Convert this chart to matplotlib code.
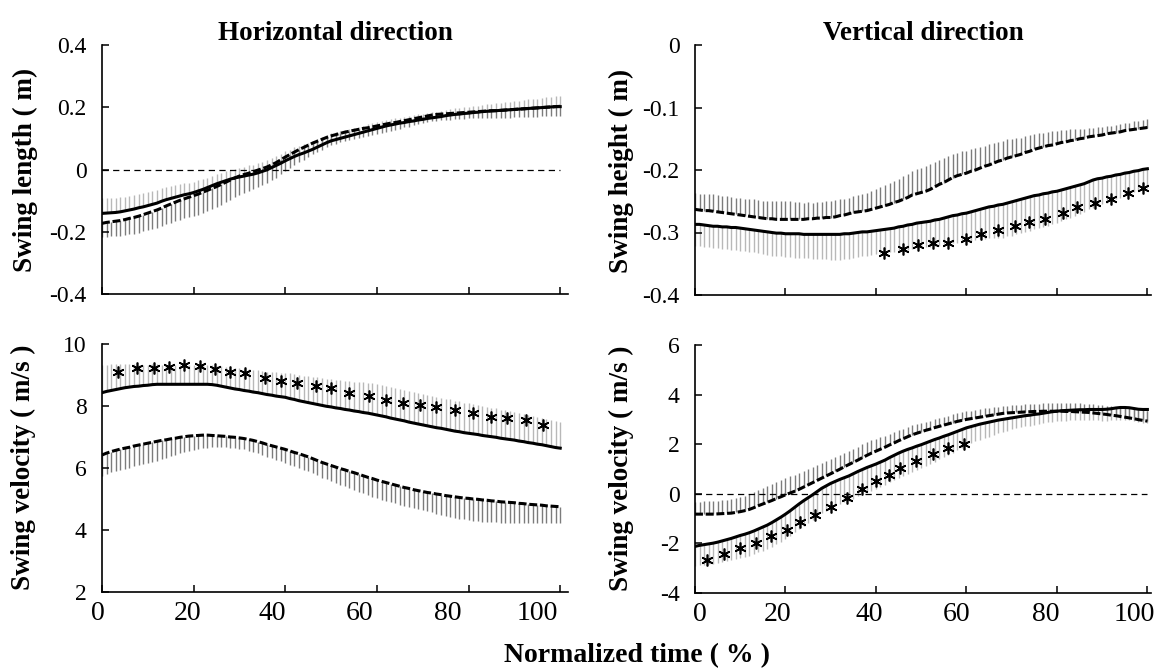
import matplotlib
matplotlib.use("Agg")
import matplotlib.pyplot as plt
import numpy as np

plt.rcParams['font.family'] = ['Liberation Serif', 'DejaVu Serif']
plt.rcParams['axes.unicode_minus'] = False

# normalized time (%), one value every 1 %
time_pct = np.arange(0, 101)

# Horizontal direction - swing length (m)
len_solid = np.array([
    -0.141, -0.140, -0.139, -0.138, -0.136, -0.133, -0.130, -0.127, -0.123, -0.120,
    -0.116, -0.112, -0.108, -0.102, -0.097, -0.093, -0.089, -0.085, -0.081, -0.078,
    -0.074, -0.069, -0.064, -0.058, -0.052, -0.046, -0.041, -0.036, -0.031, -0.027,
    -0.024, -0.021, -0.018, -0.015, -0.011, -0.006, -0.001, 0.006, 0.013, 0.020,
    0.028, 0.035, 0.042, 0.048, 0.053, 0.059, 0.065, 0.072, 0.079, 0.086,
    0.092, 0.096, 0.100, 0.104, 0.108, 0.112, 0.116, 0.120, 0.124, 0.128,
    0.132, 0.136, 0.140, 0.143, 0.146, 0.149, 0.151, 0.154, 0.156, 0.159,
    0.161, 0.164, 0.166, 0.168, 0.170, 0.173, 0.175, 0.177, 0.178, 0.180,
    0.181, 0.183, 0.184, 0.186, 0.187, 0.188, 0.189, 0.190, 0.191, 0.192,
    0.193, 0.194, 0.195, 0.196, 0.197, 0.198, 0.199, 0.200, 0.201, 0.202,
    0.202])
len_solid_sd = np.array([
    0.048, 0.048, 0.047, 0.047, 0.047, 0.046, 0.046, 0.046, 0.045, 0.045,
    0.045, 0.044, 0.043, 0.042, 0.041, 0.040, 0.039, 0.038, 0.037, 0.036,
    0.035, 0.034, 0.033, 0.032, 0.031, 0.030, 0.030, 0.030, 0.030, 0.030,
    0.030, 0.030, 0.031, 0.031, 0.032, 0.031, 0.031, 0.030, 0.030, 0.030,
    0.030, 0.029, 0.029, 0.028, 0.028, 0.027, 0.027, 0.026, 0.026, 0.025,
    0.025, 0.024, 0.024, 0.023, 0.023, 0.022, 0.022, 0.021, 0.021, 0.020,
    0.020, 0.019, 0.019, 0.019, 0.019, 0.018, 0.018, 0.018, 0.018, 0.018,
    0.018, 0.018, 0.018, 0.018, 0.019, 0.019, 0.019, 0.019, 0.020, 0.020,
    0.020, 0.020, 0.021, 0.021, 0.022, 0.023, 0.024, 0.024, 0.025, 0.026,
    0.027, 0.027, 0.028, 0.029, 0.030, 0.030, 0.031, 0.032, 0.033, 0.033,
    0.034])
len_dashed = np.array([
    -0.173, -0.170, -0.168, -0.166, -0.164, -0.161, -0.157, -0.154, -0.150, -0.145,
    -0.140, -0.135, -0.130, -0.124, -0.117, -0.111, -0.105, -0.099, -0.094, -0.089,
    -0.084, -0.079, -0.073, -0.067, -0.061, -0.055, -0.048, -0.041, -0.034, -0.027,
    -0.021, -0.016, -0.012, -0.007, -0.002, 0.003, 0.008, 0.015, 0.022, 0.031,
    0.040, 0.048, 0.056, 0.064, 0.071, 0.078, 0.085, 0.091, 0.097, 0.103,
    0.108, 0.112, 0.116, 0.120, 0.123, 0.126, 0.129, 0.132, 0.134, 0.137,
    0.140, 0.143, 0.146, 0.149, 0.151, 0.154, 0.157, 0.160, 0.163, 0.166,
    0.169, 0.172, 0.175, 0.177, 0.178, 0.179, 0.180, 0.181, 0.182, 0.183,
    0.184, 0.185, 0.186, 0.187, 0.188, 0.189, 0.189, 0.190, 0.191, 0.192,
    0.193, 0.194, 0.195, 0.196, 0.197, 0.198, 0.199, 0.200, 0.201, 0.202,
    0.203])
len_dashed_sd = np.array([
    0.045, 0.046, 0.047, 0.048, 0.049, 0.050, 0.051, 0.052, 0.053, 0.054,
    0.055, 0.056, 0.057, 0.058, 0.059, 0.060, 0.061, 0.062, 0.063, 0.064,
    0.065, 0.066, 0.066, 0.066, 0.066, 0.066, 0.065, 0.064, 0.063, 0.062,
    0.060, 0.059, 0.058, 0.057, 0.055, 0.054, 0.052, 0.050, 0.048, 0.047,
    0.045, 0.044, 0.042, 0.041, 0.039, 0.038, 0.036, 0.035, 0.033, 0.032,
    0.030, 0.030, 0.029, 0.029, 0.028, 0.028, 0.027, 0.027, 0.026, 0.026,
    0.025, 0.025, 0.024, 0.024, 0.023, 0.023, 0.022, 0.022, 0.021, 0.021,
    0.020, 0.020, 0.020, 0.020, 0.020, 0.020, 0.020, 0.020, 0.020, 0.020,
    0.020, 0.021, 0.021, 0.022, 0.022, 0.023, 0.023, 0.024, 0.024, 0.025,
    0.025, 0.026, 0.026, 0.027, 0.027, 0.028, 0.028, 0.029, 0.030, 0.031,
    0.031])

# Vertical direction - swing height (m)
hgt_solid = np.array([
    -0.287, -0.287, -0.288, -0.289, -0.290, -0.290, -0.291, -0.291, -0.292, -0.292,
    -0.293, -0.294, -0.295, -0.296, -0.297, -0.298, -0.299, -0.300, -0.301, -0.301,
    -0.302, -0.302, -0.302, -0.302, -0.303, -0.303, -0.303, -0.303, -0.303, -0.303,
    -0.303, -0.303, -0.303, -0.302, -0.302, -0.301, -0.300, -0.299, -0.299, -0.298,
    -0.297, -0.296, -0.295, -0.294, -0.293, -0.291, -0.290, -0.288, -0.287, -0.285,
    -0.284, -0.283, -0.282, -0.280, -0.279, -0.277, -0.275, -0.273, -0.272, -0.270,
    -0.269, -0.267, -0.265, -0.263, -0.261, -0.259, -0.258, -0.256, -0.255, -0.253,
    -0.251, -0.249, -0.247, -0.245, -0.243, -0.241, -0.240, -0.238, -0.237, -0.235,
    -0.234, -0.232, -0.230, -0.228, -0.226, -0.224, -0.222, -0.219, -0.216, -0.214,
    -0.213, -0.211, -0.210, -0.208, -0.207, -0.205, -0.204, -0.202, -0.201, -0.199,
    -0.198])
hgt_solid_sd = np.array([
    0.035, 0.035, 0.035, 0.035, 0.035, 0.035, 0.035, 0.035, 0.036, 0.036,
    0.036, 0.036, 0.036, 0.036, 0.036, 0.036, 0.037, 0.037, 0.037, 0.037,
    0.037, 0.037, 0.038, 0.038, 0.038, 0.038, 0.039, 0.039, 0.040, 0.040,
    0.041, 0.041, 0.041, 0.041, 0.040, 0.040, 0.039, 0.039, 0.038, 0.038,
    0.037, 0.037, 0.038, 0.038, 0.039, 0.039, 0.040, 0.040, 0.040, 0.040,
    0.040, 0.040, 0.041, 0.041, 0.042, 0.042, 0.043, 0.043, 0.044, 0.044,
    0.045, 0.046, 0.047, 0.048, 0.049, 0.050, 0.051, 0.052, 0.053, 0.053,
    0.054, 0.054, 0.054, 0.054, 0.054, 0.054, 0.053, 0.053, 0.052, 0.051,
    0.050, 0.050, 0.049, 0.048, 0.047, 0.046, 0.045, 0.044, 0.044, 0.043,
    0.042, 0.041, 0.040, 0.039, 0.038, 0.036, 0.035, 0.033, 0.032, 0.031,
    0.030])
hgt_dashed = np.array([
    -0.263, -0.264, -0.265, -0.265, -0.266, -0.267, -0.268, -0.269, -0.270, -0.271,
    -0.272, -0.273, -0.274, -0.275, -0.276, -0.277, -0.278, -0.278, -0.279, -0.279,
    -0.279, -0.279, -0.279, -0.279, -0.279, -0.278, -0.278, -0.277, -0.277, -0.276,
    -0.276, -0.275, -0.273, -0.272, -0.270, -0.268, -0.267, -0.266, -0.265, -0.263,
    -0.261, -0.259, -0.257, -0.255, -0.252, -0.250, -0.247, -0.244, -0.240, -0.238,
    -0.236, -0.234, -0.231, -0.227, -0.223, -0.220, -0.216, -0.212, -0.209, -0.207,
    -0.205, -0.202, -0.200, -0.197, -0.194, -0.192, -0.189, -0.186, -0.184, -0.181,
    -0.179, -0.177, -0.175, -0.172, -0.170, -0.167, -0.165, -0.163, -0.161, -0.160,
    -0.158, -0.156, -0.155, -0.153, -0.152, -0.150, -0.149, -0.147, -0.146, -0.145,
    -0.144, -0.142, -0.141, -0.140, -0.139, -0.137, -0.136, -0.135, -0.134, -0.133,
    -0.132])
hgt_dashed_sd = np.array([
    0.026, 0.026, 0.026, 0.026, 0.027, 0.027, 0.027, 0.027, 0.027, 0.027,
    0.027, 0.027, 0.028, 0.028, 0.028, 0.028, 0.029, 0.029, 0.029, 0.029,
    0.029, 0.029, 0.028, 0.028, 0.027, 0.027, 0.026, 0.026, 0.026, 0.026,
    0.027, 0.027, 0.026, 0.026, 0.026, 0.026, 0.027, 0.028, 0.029, 0.030,
    0.031, 0.032, 0.033, 0.034, 0.035, 0.036, 0.037, 0.038, 0.039, 0.040,
    0.040, 0.040, 0.040, 0.040, 0.039, 0.039, 0.038, 0.038, 0.037, 0.037,
    0.036, 0.036, 0.035, 0.034, 0.033, 0.033, 0.032, 0.031, 0.030, 0.030,
    0.029, 0.028, 0.027, 0.027, 0.026, 0.025, 0.024, 0.023, 0.022, 0.022,
    0.021, 0.020, 0.019, 0.018, 0.017, 0.016, 0.015, 0.014, 0.013, 0.013,
    0.012, 0.012, 0.012, 0.012, 0.012, 0.012, 0.012, 0.013, 0.013, 0.013,
    0.013])
hgt_star_x = [41.7, 46.0, 49.3, 52.5, 56.0, 59.9, 63.3, 67.0, 70.7, 73.9,
              77.3, 81.3, 84.5, 88.4, 91.9, 95.7, 99.0]
hgt_star_y = [-0.333, -0.326, -0.320, -0.317, -0.316, -0.310, -0.303, -0.296, -0.289,
              -0.284, -0.278, -0.269, -0.259, -0.253, -0.247, -0.237, -0.228]

# Horizontal direction - swing velocity (m/s)
vh_solid = np.array([
    8.43, 8.47, 8.50, 8.53, 8.56, 8.59, 8.61, 8.63, 8.64, 8.66,
    8.67, 8.69, 8.70, 8.70, 8.70, 8.70, 8.70, 8.70, 8.70, 8.70,
    8.70, 8.70, 8.70, 8.70, 8.69, 8.67, 8.64, 8.61, 8.58, 8.55,
    8.53, 8.50, 8.48, 8.45, 8.43, 8.40, 8.37, 8.35, 8.32, 8.30,
    8.28, 8.24, 8.21, 8.17, 8.14, 8.11, 8.08, 8.05, 8.02, 7.99,
    7.97, 7.94, 7.92, 7.89, 7.87, 7.84, 7.82, 7.79, 7.77, 7.74,
    7.71, 7.68, 7.65, 7.61, 7.58, 7.55, 7.52, 7.48, 7.45, 7.42,
    7.39, 7.36, 7.33, 7.30, 7.28, 7.25, 7.22, 7.19, 7.17, 7.14,
    7.12, 7.10, 7.08, 7.05, 7.03, 7.01, 6.99, 6.96, 6.94, 6.92,
    6.90, 6.87, 6.85, 6.82, 6.80, 6.77, 6.75, 6.72, 6.69, 6.66,
    6.64])
vh_solid_sd = np.array([
    0.89, 0.86, 0.84, 0.81, 0.78, 0.76, 0.73, 0.71, 0.69, 0.67,
    0.66, 0.65, 0.64, 0.63, 0.63, 0.62, 0.62, 0.62, 0.62, 0.62,
    0.62, 0.62, 0.62, 0.62, 0.63, 0.63, 0.64, 0.65, 0.66, 0.67,
    0.68, 0.69, 0.70, 0.71, 0.72, 0.73, 0.74, 0.75, 0.77, 0.78,
    0.80, 0.81, 0.82, 0.83, 0.84, 0.85, 0.86, 0.87, 0.88, 0.89,
    0.90, 0.91, 0.92, 0.93, 0.94, 0.95, 0.96, 0.97, 0.98, 0.99,
    1.00, 1.00, 1.00, 1.00, 1.00, 1.00, 1.00, 1.00, 1.00, 1.00,
    1.00, 1.00, 1.00, 1.00, 0.99, 0.99, 0.99, 0.98, 0.98, 0.97,
    0.97, 0.96, 0.96, 0.95, 0.95, 0.94, 0.93, 0.92, 0.92, 0.91,
    0.90, 0.89, 0.89, 0.88, 0.88, 0.87, 0.87, 0.86, 0.86, 0.85,
    0.85])
vh_dashed = np.array([
    6.42, 6.48, 6.53, 6.57, 6.61, 6.64, 6.67, 6.71, 6.74, 6.77,
    6.80, 6.83, 6.86, 6.89, 6.91, 6.94, 6.96, 6.99, 7.01, 7.03,
    7.04, 7.05, 7.06, 7.06, 7.05, 7.04, 7.03, 7.02, 7.00, 6.99,
    6.97, 6.95, 6.92, 6.89, 6.85, 6.81, 6.76, 6.72, 6.68, 6.64,
    6.60, 6.55, 6.50, 6.46, 6.41, 6.36, 6.30, 6.24, 6.18, 6.13,
    6.08, 6.03, 5.98, 5.94, 5.89, 5.85, 5.80, 5.75, 5.70, 5.66,
    5.61, 5.57, 5.53, 5.49, 5.45, 5.41, 5.37, 5.34, 5.30, 5.27,
    5.24, 5.21, 5.19, 5.16, 5.14, 5.11, 5.09, 5.07, 5.05, 5.03,
    5.02, 5.00, 4.99, 4.97, 4.96, 4.94, 4.93, 4.91, 4.90, 4.89,
    4.88, 4.86, 4.85, 4.83, 4.82, 4.81, 4.80, 4.78, 4.77, 4.76,
    4.75])
vh_dashed_sd = np.array([
    0.67, 0.67, 0.67, 0.67, 0.66, 0.66, 0.66, 0.66, 0.65, 0.65,
    0.65, 0.64, 0.62, 0.60, 0.58, 0.56, 0.54, 0.52, 0.50, 0.48,
    0.45, 0.43, 0.41, 0.40, 0.38, 0.37, 0.35, 0.35, 0.35, 0.35,
    0.35, 0.35, 0.36, 0.37, 0.38, 0.39, 0.40, 0.41, 0.42, 0.43,
    0.44, 0.45, 0.45, 0.46, 0.46, 0.47, 0.47, 0.48, 0.49, 0.50,
    0.50, 0.51, 0.52, 0.53, 0.54, 0.55, 0.56, 0.57, 0.58, 0.59,
    0.59, 0.59, 0.59, 0.59, 0.59, 0.59, 0.59, 0.60, 0.60, 0.60,
    0.60, 0.61, 0.62, 0.63, 0.64, 0.65, 0.66, 0.67, 0.68, 0.69,
    0.70, 0.70, 0.70, 0.70, 0.69, 0.68, 0.67, 0.67, 0.66, 0.65,
    0.64, 0.63, 0.62, 0.61, 0.60, 0.59, 0.58, 0.57, 0.55, 0.54,
    0.53])
vh_star_x = [3.5, 7.7, 11.4, 14.7, 17.9, 21.4, 24.7, 28.0, 31.2, 35.5, 39.1, 42.5, 46.6,
             50.0, 54.0, 58.3, 61.9, 65.6, 69.3, 72.8, 77.0, 80.9, 84.8, 88.4, 92.5, 96.2]
vh_star_y = [9.11, 9.21, 9.21, 9.25, 9.32, 9.29, 9.18, 9.11, 9.05, 8.89, 8.82, 8.73, 8.65,
             8.57, 8.43, 8.32, 8.19, 8.11, 8.03, 7.96, 7.87, 7.76, 7.63, 7.60, 7.55, 7.39]

# Vertical direction - swing velocity (m/s)
vv_solid = np.array([
    -2.12, -2.08, -2.05, -2.02, -1.99, -1.95, -1.90, -1.85, -1.80, -1.74,
    -1.68, -1.63, -1.57, -1.50, -1.42, -1.34, -1.26, -1.16, -1.05, -0.94,
    -0.82, -0.69, -0.55, -0.41, -0.28, -0.16, -0.04, 0.09, 0.22, 0.32,
    0.42, 0.50, 0.58, 0.65, 0.72, 0.81, 0.90, 0.98, 1.06, 1.13,
    1.20, 1.28, 1.36, 1.46, 1.55, 1.64, 1.72, 1.79, 1.85, 1.92,
    1.98, 2.05, 2.12, 2.19, 2.25, 2.32, 2.38, 2.45, 2.52, 2.59,
    2.66, 2.71, 2.76, 2.81, 2.85, 2.89, 2.93, 2.97, 3.00, 3.03,
    3.06, 3.09, 3.12, 3.15, 3.17, 3.20, 3.22, 3.25, 3.28, 3.31,
    3.33, 3.35, 3.36, 3.37, 3.38, 3.39, 3.39, 3.40, 3.40, 3.40,
    3.40, 3.41, 3.43, 3.46, 3.48, 3.48, 3.47, 3.44, 3.41, 3.40,
    3.40])
vv_solid_sd = np.array([
    0.80, 0.81, 0.82, 0.83, 0.84, 0.85, 0.86, 0.87, 0.88, 0.89,
    0.90, 0.91, 0.92, 0.93, 0.94, 0.95, 0.96, 0.97, 0.98, 0.99,
    1.00, 1.00, 1.00, 1.00, 1.00, 1.00, 1.00, 1.00, 1.00, 1.00,
    1.00, 1.00, 1.00, 1.00, 1.00, 1.00, 1.00, 1.00, 1.00, 1.00,
    1.00, 1.00, 1.00, 1.00, 1.00, 1.00, 1.00, 0.99, 0.98, 0.97,
    0.95, 0.93, 0.91, 0.89, 0.86, 0.84, 0.81, 0.79, 0.76, 0.73,
    0.70, 0.68, 0.65, 0.63, 0.60, 0.58, 0.55, 0.53, 0.50, 0.48,
    0.45, 0.44, 0.43, 0.43, 0.42, 0.42, 0.41, 0.41, 0.40, 0.40,
    0.40, 0.40, 0.41, 0.41, 0.42, 0.42, 0.43, 0.43, 0.44, 0.44,
    0.45, 0.46, 0.47, 0.48, 0.49, 0.50, 0.51, 0.52, 0.53, 0.54,
    0.55])
vv_dashed = np.array([
    -0.82, -0.82, -0.82, -0.82, -0.82, -0.81, -0.80, -0.79, -0.78, -0.75,
    -0.72, -0.68, -0.63, -0.56, -0.48, -0.41, -0.34, -0.27, -0.19, -0.12,
    -0.04, 0.03, 0.10, 0.18, 0.27, 0.36, 0.45, 0.54, 0.63, 0.72,
    0.81, 0.90, 0.99, 1.09, 1.18, 1.27, 1.36, 1.46, 1.55, 1.64,
    1.72, 1.80, 1.88, 1.97, 2.05, 2.14, 2.22, 2.30, 2.38, 2.44,
    2.50, 2.56, 2.61, 2.67, 2.72, 2.77, 2.82, 2.87, 2.92, 2.96,
    3.00, 3.03, 3.06, 3.09, 3.12, 3.15, 3.18, 3.21, 3.24, 3.26,
    3.27, 3.28, 3.29, 3.30, 3.31, 3.32, 3.32, 3.33, 3.33, 3.33,
    3.33, 3.33, 3.32, 3.32, 3.31, 3.30, 3.29, 3.28, 3.26, 3.24,
    3.22, 3.20, 3.17, 3.15, 3.12, 3.09, 3.06, 3.03, 2.99, 2.96,
    2.93])
vv_dashed_sd = np.array([
    0.50, 0.50, 0.51, 0.51, 0.52, 0.53, 0.54, 0.55, 0.56, 0.57,
    0.58, 0.60, 0.61, 0.63, 0.64, 0.65, 0.66, 0.67, 0.68, 0.68,
    0.68, 0.68, 0.67, 0.66, 0.65, 0.64, 0.63, 0.62, 0.61, 0.60,
    0.60, 0.59, 0.58, 0.57, 0.56, 0.55, 0.54, 0.53, 0.52, 0.51,
    0.50, 0.48, 0.47, 0.45, 0.44, 0.42, 0.41, 0.39, 0.38, 0.36,
    0.35, 0.35, 0.34, 0.34, 0.34, 0.34, 0.33, 0.33, 0.33, 0.33,
    0.33, 0.32, 0.32, 0.32, 0.32, 0.31, 0.31, 0.31, 0.31, 0.30,
    0.30, 0.30, 0.31, 0.31, 0.32, 0.32, 0.32, 0.32, 0.33, 0.33,
    0.34, 0.34, 0.34, 0.34, 0.35, 0.35, 0.35, 0.35, 0.36, 0.36,
    0.36, 0.36, 0.37, 0.37, 0.38, 0.38, 0.38, 0.39, 0.39, 0.40,
    0.40])
vv_star_x = [2.6, 6.3, 10.0, 13.4, 16.8, 20.3, 23.3, 26.6, 30.1, 33.6, 36.9,
             39.9, 42.9, 45.4, 48.8, 52.7, 55.9, 59.4]
vv_star_y = [-2.66, -2.43, -2.19, -1.99, -1.72, -1.45, -1.14, -0.87, -0.55, -0.17, 0.21,
             0.51, 0.75, 1.04, 1.31, 1.61, 1.83, 1.99]

time_ticks = [0, 20, 40, 60, 80, 100]
time_labels = ['0', '20', '40', '60', '80', '100']

W, H = 1158, 671
fig = plt.figure(figsize=(W / 100, H / 100), dpi=100)


def box(x0, y0, x1, y1):
    return [x0 / W, 1 - y1 / H, (x1 - x0) / W, (y1 - y0) / H]


ax_tl = fig.add_axes(box(102, 45, 568, 294))
ax_tr = fig.add_axes(box(695, 45, 1151, 295))
ax_bl = fig.add_axes(box(102, 344, 568, 592))
ax_br = fig.add_axes(box(695, 345, 1151, 593))


def panel(ax, solid, solid_sd, solid_dir, dashed, dashed_sd, dashed_dir):
    ax.vlines(time_pct, solid, solid + solid_dir * solid_sd, color='#b8b8b8', lw=1.0, zorder=1)
    ax.vlines(time_pct, dashed, dashed + dashed_dir * dashed_sd, color='#7c7c7c', lw=1.0, zorder=1)
    ax.plot(time_pct, solid, color='black', lw=2.2, zorder=3)
    ax.plot(time_pct, dashed, color='black', lw=2.2, ls=(0, (2.6, 0.9)), zorder=3)
    for s in ['top', 'right']:
        ax.spines[s].set_visible(False)
    for s in ['left', 'bottom']:
        ax.spines[s].set_linewidth(1.2)
    ax.tick_params(direction='in', length=5, width=1.1)
    ax.tick_params(axis='y', labelsize=17, pad=11)
    ax.set_xticks(time_ticks)
    ax.set_xticklabels([])


def time_axis_labels(ax, positions):
    # the x labels of the original sit a little left of their ticks
    for pos, lab in zip(positions, time_labels):
        ax.text(pos, -0.035, lab, transform=ax.get_xaxis_transform(),
                ha='center', va='top', fontsize=20)


def stars(ax, sx, sy):
    ax.plot(sx, sy, ls='none', marker=(6, 2, 0), ms=8.5, mew=1.2, color='black', zorder=4)


panel(ax_tl, len_solid, len_solid_sd, 1, len_dashed, len_dashed_sd, -1)
ax_tl.hlines(0, 0, 100, color='black', lw=0.9, ls=(0, (5, 3.5)), zorder=2)
ax_tl.set_xlim(0, 101.7)
ax_tl.set_ylim(-0.4, 0.4)
ax_tl.set_yticks([-0.4, -0.2, 0, 0.2, 0.4])
ax_tl.set_yticklabels(['-0.4', '-0.2', '0', '0.2', '0.4'])

panel(ax_tr, hgt_solid, hgt_solid_sd, -1, hgt_dashed, hgt_dashed_sd, 1)
stars(ax_tr, hgt_star_x, hgt_star_y)
ax_tr.set_xlim(0, 100.8)
ax_tr.set_ylim(-0.4, 0)
ax_tr.set_yticks([-0.4, -0.3, -0.2, -0.1, 0])
ax_tr.set_yticklabels(['-0.4', '-0.3', '-0.2', '-0.1', '0'])

panel(ax_bl, vh_solid, vh_solid_sd, 1, vh_dashed, vh_dashed_sd, -1)
stars(ax_bl, vh_star_x, vh_star_y)
ax_bl.set_xlim(0, 101.7)
ax_bl.set_ylim(2, 10)
ax_bl.set_yticks([2, 4, 6, 8, 10])
ax_bl.set_yticklabels(['2', '4', '6', '8', '10'])
time_axis_labels(ax_bl, [-1.0, 18.6, 37.2, 56.2, 75.5, 94.9])

panel(ax_br, vv_solid, vv_solid_sd, -1, vv_dashed, vv_dashed_sd, 1)
ax_br.hlines(0, 0, 100, color='black', lw=0.9, ls=(0, (5, 3.5)), zorder=2)
stars(ax_br, vv_star_x, vv_star_y)
ax_br.set_xlim(0, 100.8)
ax_br.set_ylim(-4, 6)
ax_br.set_yticks([-4, -2, 0, 2, 4, 6])
ax_br.set_yticklabels(['-4', '-2', '0', '2', '4', '6'])
time_axis_labels(ax_br, [1.0, 18.2, 38.6, 57.8, 77.6, 97.2])

# titles and axis labels
fig.text(335 / W, 1 - 40 / H, 'Horizontal direction', ha='center', va='baseline',
         fontsize=19.5, fontweight='bold')
fig.text(923 / W, 1 - 40 / H, 'Vertical direction', ha='center', va='baseline',
         fontsize=19.5, fontweight='bold')
fig.text(25 / W, 1 - 170 / H, 'Swing length ( m)', rotation=90, ha='center', va='center',
         fontsize=19.5, fontweight='bold')
fig.text(621 / W, 1 - 171 / H, 'Swing height ( m)', rotation=90, ha='center', va='center',
         fontsize=19.5, fontweight='bold')
fig.text(23 / W, 1 - 467 / H, 'Swing velocity ( m/s )', rotation=90, ha='center', va='center',
         fontsize=19.5, fontweight='bold')
fig.text(621 / W, 1 - 468 / H, 'Swing velocity ( m/s )', rotation=90, ha='center', va='center',
         fontsize=19.5, fontweight='bold')
fig.text(637 / W, 1 - 656 / H, 'Normalized time ( % )', ha='center', va='center',
         fontsize=20, fontweight='bold')

fig.savefig('out.png', dpi=100)
